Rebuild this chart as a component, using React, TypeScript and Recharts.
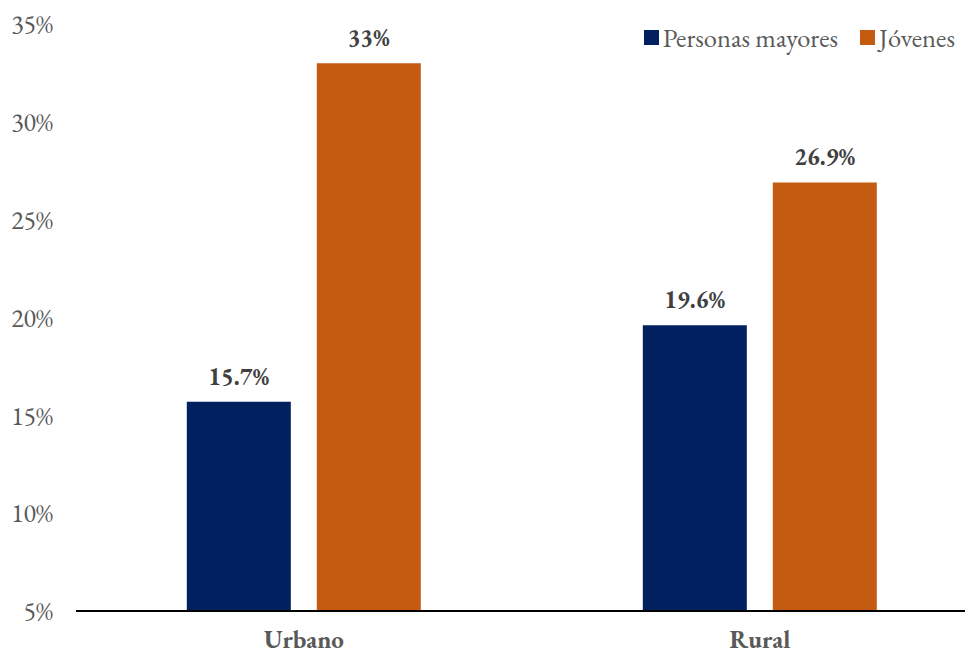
import React from 'react';
import { BarChart, Bar, XAxis, YAxis, LabelList } from 'recharts';

const categories = ['Urbano', 'Rural'];
const mayores = [15.7, 19.6];
const jovenes = [33, 26.9];
const yTicks = [5, 10, 15, 20, 25, 30, 35];

const data = categories.map((name, i) => ({
  name,
  mayores: mayores[i],
  jovenes: jovenes[i],
}));

const FONT = '"EB Garamond", Garamond, "Liberation Serif", serif';
const NAVY = '#002060';
const ORANGE = '#C55A11';

const legendItems = [
  { label: 'Personas mayores', color: NAVY },
  { label: 'Jóvenes', color: ORANGE },
];

export default function App() {
  return (
    <div
      style={{
        position: 'relative',
        width: 973,
        height: 654,
        overflow: 'hidden',
        margin: '-8px 0 0 -8px',
        background: '#fff',
      }}
    >
      <BarChart
        width={1000}
        height={654}
        data={data}
        margin={{ top: 24, right: 12, left: 0, bottom: 0 }}
        barCategoryGap="24.3%"
        barGap={26}
      >
        <XAxis
          dataKey="name"
          axisLine={{ stroke: '#000', strokeWidth: 2 }}
          tickLine={false}
          tickSize={0}
          tickMargin={19}
          height={43}
          tick={{ fill: '#595959', fontSize: 25, fontWeight: 'bold', fontFamily: FONT }}
        />
        <YAxis
          domain={[5, 35]}
          ticks={yTicks}
          width={76}
          axisLine={false}
          tickLine={false}
          tickSize={0}
          tickMargin={23}
          tickFormatter={(v) => `${v}%`}
          tick={{ fill: '#595959', fontSize: 26, fontFamily: FONT }}
        />
        <Bar dataKey="mayores" fill={NAVY} isAnimationActive={false}>
          <LabelList
            dataKey="mayores"
            position="top"
            offset={17}
            formatter={(v) => `${v}%`}
            style={{ fill: '#404040', fontSize: 24, fontWeight: 'bold', fontFamily: FONT }}
          />
        </Bar>
        <Bar dataKey="jovenes" fill={ORANGE} isAnimationActive={false}>
          <LabelList
            dataKey="jovenes"
            position="top"
            offset={17}
            formatter={(v) => `${v}%`}
            style={{ fill: '#404040', fontSize: 24, fontWeight: 'bold', fontFamily: FONT }}
          />
        </Bar>
      </BarChart>
      <div
        style={{
          position: 'absolute',
          top: 20,
          right: 18,
          display: 'flex',
          gap: 22,
          fontFamily: FONT,
          fontSize: 26.5,
          color: '#595959',
        }}
      >
        {legendItems.map((item) => (
          <div key={item.label} style={{ display: 'flex', alignItems: 'center', gap: 4 }}>
            <div style={{ width: 15, height: 15, backgroundColor: item.color }} />
            <span>{item.label}</span>
          </div>
        ))}
      </div>
    </div>
  );
}
